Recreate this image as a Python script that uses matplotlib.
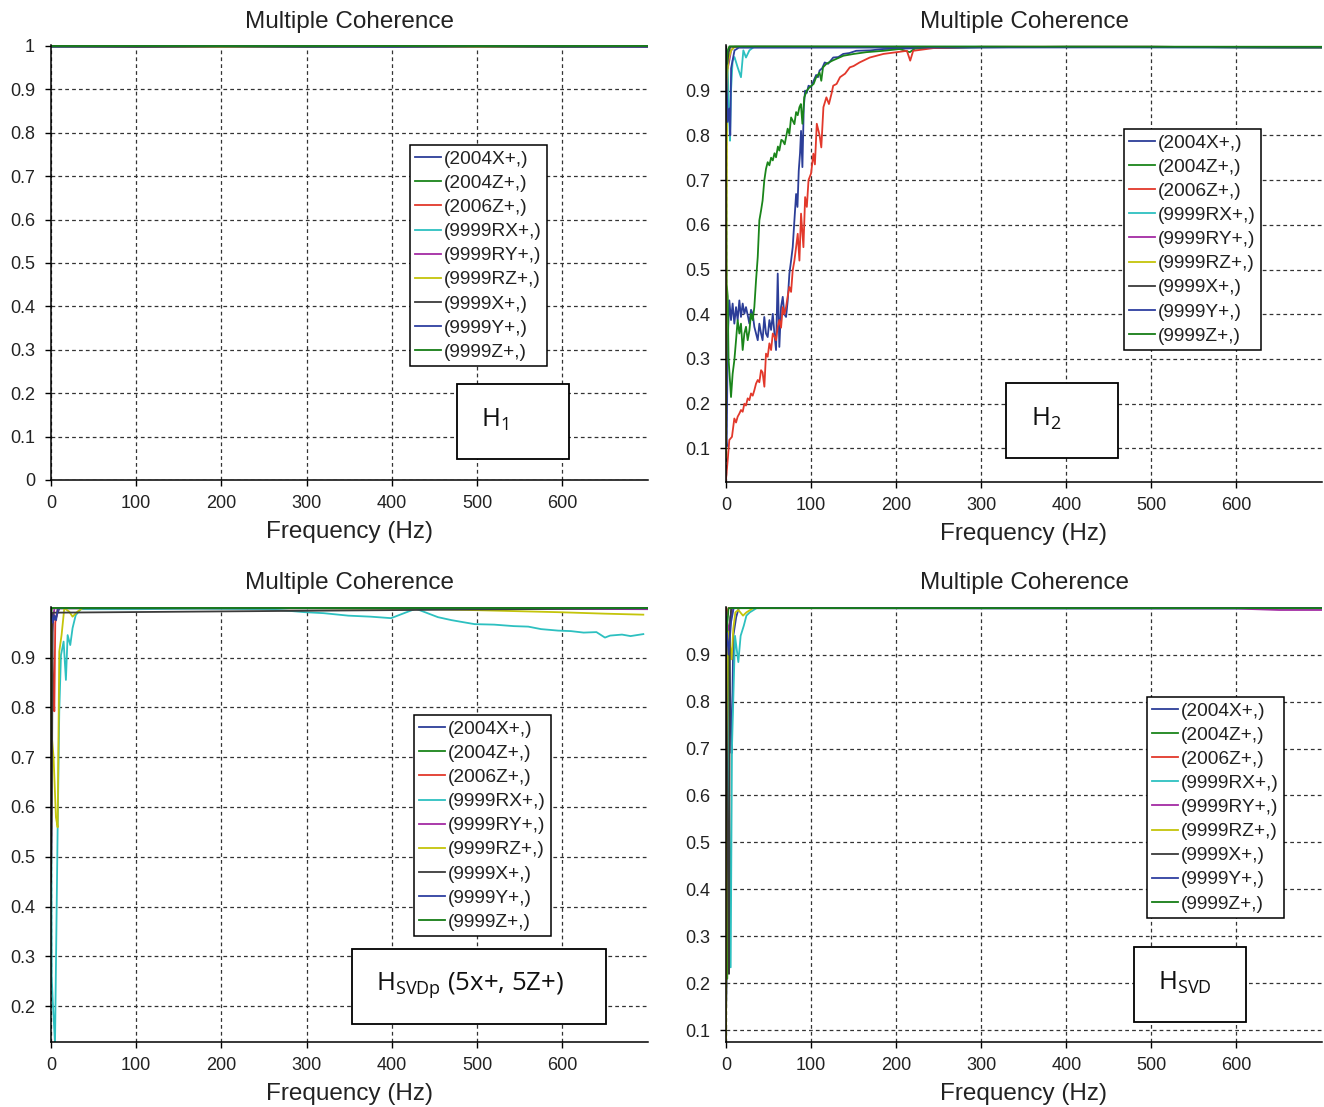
import matplotlib
matplotlib.use('Agg')
import matplotlib.pyplot as plt
from matplotlib.patches import Rectangle
from matplotlib.ticker import FuncFormatter

plt.rcParams['font.family'] = ['Liberation Sans', 'DejaVu Sans']
plt.rcParams['mathtext.default'] = 'regular'

# ---------------- data ----------------
channels = ['(2004X+,)', '(2004Z+,)', '(2006Z+,)', '(9999RX+,)', '(9999RY+,)',
            '(9999RZ+,)', '(9999X+,)', '(9999Y+,)', '(9999Z+,)']
panel_titles = ['Multiple Coherence'] * 4
x_label = 'Frequency (Hz)'
x_ticks = [0, 100, 200, 300, 400, 500, 600]

# Panel H1 (all channels ~ 1)
h1_freq = [0, 100, 200, 300, 400, 500, 600, 700]
h1_2004X = [0.999, 0.998, 0.999, 0.998, 0.999, 0.998, 0.999, 0.999]
h1_2004Z = [0.998, 0.999, 0.998, 0.999, 0.998, 0.999, 0.998, 0.999]
h1_2006Z = [0.999, 0.999, 0.998, 0.999, 0.999, 0.998, 0.999, 0.998]
h1_9999RX = [0.998, 0.999, 0.999, 0.998, 0.999, 0.999, 0.998, 0.999]
h1_9999RY = [0.999, 0.998, 0.999, 0.999, 0.998, 0.999, 0.999, 0.998]
h1_9999RZ = [0.998, 0.999, 0.998, 0.999, 0.999, 0.998, 0.999, 0.999]
h1_9999X = [0.999, 0.998, 0.999, 0.998, 0.999, 0.999, 0.998, 0.999]
h1_9999Y = [0.998, 0.999, 0.999, 0.999, 0.998, 0.999, 0.999, 0.998]
h1_9999Z = [0.999, 0.999, 0.999, 0.999, 0.999, 0.999, 0.999, 0.999]

# Panel H2
h2_2004X_f = [0, 0.8, 2, 3.9, 5.9, 7.8, 9.8, 11.8, 13.7, 15.7, 17.6, 19.6, 21.6, 23.5,
              25.5, 27.5, 29.4, 31.4, 33.3, 35.3, 37.3, 39.2, 41.2, 43, 45, 47, 49, 51,
              53, 55, 56.9, 58.8, 60.8, 62.7, 64.7, 66.7, 68.6, 70.6, 72.5, 74.5, 76.5,
              78.4, 80.4, 82.4, 84, 85.5, 87, 88.2, 89.8, 91.4, 93, 95, 97, 100, 103,
              106, 108, 110, 113, 116, 120, 126, 132, 137.7, 145, 153, 170, 185, 230,
              300, 400, 500, 600, 700]
h2_2004X = [0.12, 0.104, 0.342, 0.431, 0.387, 0.424, 0.379, 0.416, 0.387, 0.431, 0.394,
            0.424, 0.401, 0.416, 0.398, 0.379, 0.41, 0.401, 0.372, 0.357, 0.342, 0.379,
            0.357, 0.342, 0.394, 0.357, 0.349, 0.387, 0.365, 0.401, 0.357, 0.32, 0.491,
            0.327, 0.416, 0.439, 0.40, 0.394, 0.43, 0.491, 0.52, 0.55, 0.61, 0.669,
            0.64, 0.721, 0.76, 0.81, 0.729, 0.863, 0.9, 0.895, 0.911, 0.908, 0.922,
            0.935, 0.93, 0.945, 0.95, 0.963, 0.96, 0.974, 0.975, 0.982, 0.984, 0.989,
            0.99, 0.993, 0.995, 0.997, 0.998, 0.998, 0.997, 0.996]
h2_2004Z_f = [0, 0.8, 2, 3, 5.9, 7.8, 9.8, 11.8, 13.7, 15.7, 17.6, 19.6, 21.6, 23.5, 25.5,
              27.5, 29.4, 31.4, 33.3, 35.3, 37.3, 39.2, 41.2, 43, 45, 47, 49, 51, 53, 55,
              57, 58.8, 61, 62.7, 65, 66.7, 69, 70.6, 72.5, 74.5, 76.5, 78.4, 80.4, 82.4,
              84.3, 86.3, 88, 89.8, 92, 95, 98, 103, 106, 110, 112, 114, 118, 125, 138,
              150, 165, 185, 204, 216, 222, 250, 300, 400, 500, 600, 700]
h2_2004Z = [0.97, 0.468, 0.44, 0.3, 0.215, 0.267, 0.297, 0.342, 0.387, 0.357, 0.379, 0.32,
            0.357, 0.372, 0.342, 0.364, 0.401, 0.387, 0.416, 0.476, 0.528, 0.61, 0.632,
            0.654, 0.699, 0.725, 0.74, 0.733, 0.75, 0.744, 0.76, 0.751, 0.775, 0.766,
            0.79, 0.788, 0.78, 0.796, 0.815, 0.803, 0.84, 0.833, 0.825, 0.852, 0.845,
            0.863, 0.87, 0.826, 0.885, 0.9, 0.907, 0.915, 0.93, 0.94, 0.922, 0.952,
            0.96, 0.967, 0.978, 0.982, 0.986, 0.989, 0.993, 0.986, 0.994, 0.996, 0.997,
            0.998, 0.998, 0.997, 0.996]
h2_2006Z_f = [0, 2, 3.9, 7, 9.8, 11.8, 13.7, 15.7, 17.6, 19.6, 21.6, 23.5, 25.5, 27.5,
              29.4, 31.4, 33.3, 35.3, 37.3, 39.2, 41.2, 43, 45.1, 47, 49, 51, 53, 55, 57,
              58.8, 60.8, 62.7, 64.7, 66.7, 68.6, 70.6, 72.5, 74.5, 76.5, 78.4, 80.4,
              82.4, 84.3, 86.3, 88.2, 91, 93, 95, 97, 100, 102.7, 104.5, 106.7, 110, 112,
              114.5, 118, 121, 124, 126, 130, 134, 140, 145.5, 150, 157, 169, 185, 200.8,
              212.6, 216.5, 220, 243.5, 298, 400, 500, 600, 700]
h2_2006Z = [0.03, 0.074, 0.119, 0.126, 0.167, 0.158, 0.171, 0.178, 0.186, 0.182, 0.2,
            0.196, 0.212, 0.208, 0.223, 0.218, 0.23, 0.245, 0.253, 0.248, 0.275, 0.27,
            0.238, 0.312, 0.305, 0.335, 0.32, 0.357, 0.35, 0.342, 0.372, 0.387, 0.37,
            0.416, 0.40, 0.416, 0.44, 0.461, 0.45, 0.498, 0.52, 0.55, 0.58, 0.52, 0.625,
            0.55, 0.662, 0.64, 0.7, 0.715, 0.759, 0.735, 0.826, 0.80, 0.773, 0.863,
            0.885, 0.87, 0.893, 0.911, 0.915, 0.93, 0.938, 0.952, 0.955, 0.963, 0.974,
            0.982, 0.986, 0.989, 0.967, 0.989, 0.995, 0.998, 0.998, 0.998, 0.997, 0.996]
h2_9999RX_f = [0, 2, 3.5, 4.7, 5.9, 7.8, 10, 13.7, 17.6, 20.4, 23.5, 27.5, 33, 100, 300, 500, 700]
h2_9999RX = [0.98, 0.95, 0.85, 0.788, 0.9, 0.967, 0.975, 0.952, 0.93, 0.99, 0.974, 0.99,
             0.998, 0.998, 0.998, 0.997, 0.996]
h2_9999RY_f = [0, 2, 3.9, 6, 10, 100, 700]
h2_9999RY = [0.99, 0.95, 0.967, 0.99, 0.998, 0.998, 0.997]
h2_9999RZ_f = [0, 0.5, 1.5, 3, 6, 10, 700]
h2_9999RZ = [0.08, 0.6, 0.94, 0.97, 0.99, 0.998, 0.997]
h2_9999X_f = [0, 1.5, 3, 5, 700]
h2_9999X = [0.99, 0.96, 0.985, 0.998, 0.997]
h2_9999Y_f = [0, 1, 2, 3.9, 5, 6, 8, 10, 15, 700]
h2_9999Y = [0.99, 0.9, 0.83, 0.86, 0.80, 0.95, 0.97, 0.99, 0.996, 0.997]
h2_9999Z_f = [0, 1, 2, 4, 700]
h2_9999Z = [0.93, 0.97, 0.99, 0.999, 0.998]

# Panel H_SVDp
hp_2004X_f = [0, 1, 3, 5.8, 7.8, 10, 700]
hp_2004X = [0.99, 0.97, 0.975, 0.979, 0.99, 0.999, 0.999]
hp_2004Z_f = [0, 1, 700]
hp_2004Z = [0.98, 0.999, 0.999]
hp_2006Z_f = [0, 2.5, 3.9, 5, 8, 700]
hp_2006Z = [0.99, 0.85, 0.792, 0.97, 0.999, 0.999]
hp_9999RX_f = [0, 0.8, 2, 4.7, 7.8, 9.7, 11.7, 14.8, 17.5, 19.5, 22.6, 25.3, 29, 35, 100,
               174, 247, 270, 298, 320, 349, 375, 399, 428, 454, 470, 480, 497, 520, 543,
               560, 575, 595, 610, 625, 640, 650, 656, 670, 680, 695]
hp_9999RX = [0.95, 0.259, 0.212, 0.125, 0.559, 0.792, 0.905, 0.932, 0.855, 0.945, 0.925,
             0.959, 0.985, 0.997, 0.997, 0.998, 0.997, 0.995, 0.991, 0.989, 0.984, 0.982,
             0.979, 0.998, 0.981, 0.975, 0.972, 0.967, 0.966, 0.963, 0.962, 0.957, 0.954,
             0.953, 0.95, 0.951, 0.94, 0.944, 0.946, 0.943, 0.947]
hp_9999RY_f = [0, 0.3, 1.5, 3, 4, 500, 540, 700]
hp_9999RY = [0.5, 0.5, 0.95, 0.985, 0.999, 0.999, 0.998, 0.997]
hp_9999RZ_f = [0, 0.8, 3, 5.8, 7.8, 9.7, 12.4, 15.6, 21.4, 25.3, 31, 37, 100, 300, 449,
               500, 595, 650, 695]
hp_9999RZ = [0.99, 0.745, 0.7, 0.579, 0.559, 0.912, 0.945, 0.999, 0.992, 0.982, 0.992,
             0.999, 0.999, 0.999, 0.997, 0.995, 0.991, 0.988, 0.986]
hp_9999X_f = [0, 1, 2, 700]
hp_9999X = [0.45, 0.6, 0.99, 0.999]
hp_9999Y_f = [0, 2, 4, 6, 8, 700]
hp_9999Y = [0.99, 0.97, 0.985, 0.975, 0.999, 0.999]
hp_9999Z_f = [0, 700]
hp_9999Z = [0.999, 0.999]

# Panel H_SVD
hs_2004X_f = [0, 0.8, 2, 4, 5.5, 6.6, 8.6, 12, 15, 700]
hs_2004X = [0.135, 0.2, 0.85, 0.9, 0.75, 0.69, 0.94, 0.98, 0.999, 0.999]
hs_2004Z_f = [0, 1.5, 3, 5, 8, 700]
hs_2004Z = [0.95, 0.21, 0.92, 0.98, 0.999, 0.999]
hs_2006Z_f = [0, 1, 3, 700]
hs_2006Z = [0.999, 0.985, 0.999, 0.999]
hs_9999RX_f = [0, 3, 5.5, 7, 10.6, 14.5, 17.2, 21, 24, 28, 36, 100, 400, 700]
hs_9999RX = [0.99, 0.7, 0.234, 0.7, 0.94, 0.884, 0.94, 0.962, 0.983, 0.99, 0.999, 0.999,
             0.998, 0.998]
hs_9999RY_f = [0, 2.7, 4.7, 8, 600, 650, 700]
hs_9999RY = [0.99, 0.948, 0.97, 0.999, 0.998, 0.995, 0.995]
hs_9999RZ_f = [0, 1, 2, 4, 6.6, 8.6, 11, 14.5, 20, 24, 32, 700]
hs_9999RZ = [0.08, 0.5, 0.95, 0.93, 0.89, 0.955, 0.99, 0.995, 0.983, 0.99, 0.999, 0.999]
hs_9999X_f = [0, 2, 3.5, 4.5, 6, 700]
hs_9999X = [0.97, 0.5, 0.22, 0.95, 0.999, 0.999]
hs_9999Y_f = [0, 3, 6, 9, 700]
hs_9999Y = [0.98, 0.9, 0.97, 0.999, 0.999]
hs_9999Z_f = [0, 0.8, 3, 700]
hs_9999Z = [0.97, 0.948, 0.999, 0.999]

box_labels = [r'$\mathregular{H_1}$', r'$\mathregular{H_2}$',
              r'$\mathregular{H_{SVDp}}$ (5x+, 5Z+)', r'$\mathregular{H_{SVD}}$']

# ---------------- styles ----------------
colors = ['#2c3e98', '#1a851a', '#e2382b', '#2dc0c0', '#a42ba4',
          '#c4c40a', '#3a3a3a', '#2e3fa0', '#167d16']

panels = [
    [(h1_freq, h1_2004X), (h1_freq, h1_2004Z), (h1_freq, h1_2006Z), (h1_freq, h1_9999RX),
     (h1_freq, h1_9999RY), (h1_freq, h1_9999RZ), (h1_freq, h1_9999X), (h1_freq, h1_9999Y),
     (h1_freq, h1_9999Z)],
    [(h2_2004X_f, h2_2004X), (h2_2004Z_f, h2_2004Z), (h2_2006Z_f, h2_2006Z),
     (h2_9999RX_f, h2_9999RX), (h2_9999RY_f, h2_9999RY), (h2_9999RZ_f, h2_9999RZ),
     (h2_9999X_f, h2_9999X), (h2_9999Y_f, h2_9999Y), (h2_9999Z_f, h2_9999Z)],
    [(hp_2004X_f, hp_2004X), (hp_2004Z_f, hp_2004Z), (hp_2006Z_f, hp_2006Z),
     (hp_9999RX_f, hp_9999RX), (hp_9999RY_f, hp_9999RY), (hp_9999RZ_f, hp_9999RZ),
     (hp_9999X_f, hp_9999X), (hp_9999Y_f, hp_9999Y), (hp_9999Z_f, hp_9999Z)],
    [(hs_2004X_f, hs_2004X), (hs_2004Z_f, hs_2004Z), (hs_2006Z_f, hs_2006Z),
     (hs_9999RX_f, hs_9999RX), (hs_9999RY_f, hs_9999RY), (hs_9999RZ_f, hs_9999RZ),
     (hs_9999X_f, hs_9999X), (hs_9999Y_f, hs_9999Y), (hs_9999Z_f, hs_9999Z)],
]

W, H = 1324, 1107
fig = plt.figure(figsize=(W / 100, H / 100), dpi=100)

axes_pos = [
    [51 / W, 1 - 480 / H, 597 / W, 435 / H],
    [726 / W, 1 - 482 / H, 596 / W, 437 / H],
    [51 / W, 1 - 1042 / H, 597 / W, 435.3 / H],
    [726 / W, 1 - 1042 / H, 596 / W, 435.3 / H],
]
ylims = [(0, 1.002), (0.025, 1.002), (0.128, 1.002), (0.075, 1.002)]
yticks = [[0, 0.1, 0.2, 0.3, 0.4, 0.5, 0.6, 0.7, 0.8, 0.9, 1.0],
          [0.1, 0.2, 0.3, 0.4, 0.5, 0.6, 0.7, 0.8, 0.9],
          [0.2, 0.3, 0.4, 0.5, 0.6, 0.7, 0.8, 0.9],
          [0.1, 0.2, 0.3, 0.4, 0.5, 0.6, 0.7, 0.8, 0.9]]
legend_anchor = [(0.601, 0.770), (0.668, 0.808), (0.608, 0.751), (0.706, 0.793)]
boxes = [(0.680, 0.048, 0.188, 0.173), (0.470, 0.055, 0.188, 0.1715),
         (0.504, 0.041, 0.426, 0.1726), (0.6846, 0.046, 0.188, 0.172)]

for i in range(4):
    ax = fig.add_axes(axes_pos[i])
    for (f, v), c, lab in zip(panels[i], colors, channels):
        ax.plot(f, v, color=c, lw=1.3, label=lab)
    ax.set_xlim(0, 700.5)
    ax.set_ylim(*ylims[i])
    ax.set_xticks(x_ticks)
    ax.set_yticks(yticks[i])
    ax.yaxis.set_major_formatter(FuncFormatter(lambda y, p: '%g' % round(y, 2)))
    ax.spines['top'].set_visible(False)
    ax.spines['right'].set_visible(False)
    for s in ('left', 'bottom'):
        ax.spines[s].set_linewidth(1.1)
        ax.spines[s].set_color('black')
    ax.tick_params(axis='both', direction='out', length=4.5, width=1.0,
                   labelsize=13, colors='black', labelcolor='#222222')
    ax.tick_params(axis='y', pad=7)
    ax.tick_params(axis='x', pad=6)
    ax.grid(True, linestyle=(0, (3, 2.5)), color='#333333', linewidth=0.9)
    ax.set_axisbelow(True)
    ax.set_title(panel_titles[i], fontsize=17.5, pad=12.5, color='#222222')
    ax.set_xlabel(x_label, fontsize=17.5, labelpad=7, color='#222222')
    leg = ax.legend(loc='upper left', bbox_to_anchor=legend_anchor[i], borderaxespad=0,
                    fontsize=13.8, frameon=True, fancybox=False, framealpha=1,
                    edgecolor='black', handlelength=1.35, handletextpad=0.15,
                    labelspacing=0.35, borderpad=0.28)
    leg.get_frame().set_linewidth(1.1)
    for t in leg.get_texts():
        t.set_color('#222222')
    bx, by, bw, bh = boxes[i]
    ax.add_patch(Rectangle((bx, by), bw, bh, transform=ax.transAxes, facecolor='white',
                           edgecolor='black', linewidth=1.3, zorder=6))
    ax.text(bx + 0.041, by + bh * 0.52, box_labels[i], transform=ax.transAxes,
            ha='left', va='center', fontsize=18.5, family=['Open Sans', 'DejaVu Sans'],
            color='#111111', zorder=7)

fig.savefig('out.png', dpi=100)
